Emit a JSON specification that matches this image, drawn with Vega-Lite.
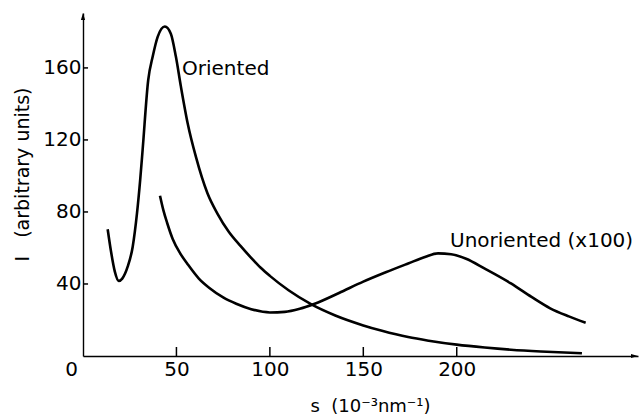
{
  "$schema": "https://vega.github.io/schema/vega-lite/v6.json",
  "autosize": "none",
  "width": 555,
  "height": 343,
  "padding": {"left": 83, "top": 13, "right": 2, "bottom": 58},
  "background": "white",
  "config": {
    "view": {"stroke": null}
  },
  "datasets": {
    "curves": [
      {"series": "Oriented", "s": 13.2, "I": 70.4},
      {"series": "Oriented", "s": 15, "I": 58},
      {"series": "Oriented", "s": 17, "I": 47},
      {"series": "Oriented", "s": 19.1, "I": 41.7},
      {"series": "Oriented", "s": 21, "I": 43},
      {"series": "Oriented", "s": 23.9, "I": 49.6},
      {"series": "Oriented", "s": 26.6, "I": 60.7},
      {"series": "Oriented", "s": 28.9, "I": 79.3},
      {"series": "Oriented", "s": 30.6, "I": 97.8},
      {"series": "Oriented", "s": 31.9, "I": 114.4},
      {"series": "Oriented", "s": 34.9, "I": 153.3},
      {"series": "Oriented", "s": 37.3, "I": 166.3},
      {"series": "Oriented", "s": 40, "I": 177.4},
      {"series": "Oriented", "s": 43.8, "I": 183},
      {"series": "Oriented", "s": 47, "I": 179},
      {"series": "Oriented", "s": 49.7, "I": 166.3},
      {"series": "Oriented", "s": 52.4, "I": 149.6},
      {"series": "Oriented", "s": 56, "I": 129.3},
      {"series": "Oriented", "s": 60.4, "I": 110.7},
      {"series": "Oriented", "s": 66.6, "I": 90.4},
      {"series": "Oriented", "s": 72, "I": 79},
      {"series": "Oriented", "s": 78, "I": 69},
      {"series": "Oriented", "s": 84.4, "I": 61},
      {"series": "Oriented", "s": 90, "I": 54.5},
      {"series": "Oriented", "s": 95.1, "I": 49},
      {"series": "Oriented", "s": 100, "I": 44.5},
      {"series": "Oriented", "s": 110, "I": 36.5},
      {"series": "Oriented", "s": 122, "I": 28.8},
      {"series": "Oriented", "s": 135, "I": 22.5},
      {"series": "Oriented", "s": 150, "I": 17},
      {"series": "Oriented", "s": 160, "I": 14},
      {"series": "Oriented", "s": 174, "I": 10.5},
      {"series": "Oriented", "s": 185, "I": 8.5},
      {"series": "Oriented", "s": 200, "I": 6.3},
      {"series": "Oriented", "s": 215, "I": 4.7},
      {"series": "Oriented", "s": 229, "I": 3.5},
      {"series": "Oriented", "s": 245, "I": 2.5},
      {"series": "Oriented", "s": 267, "I": 1.5},
      {"series": "Unoriented", "s": 41.2, "I": 89},
      {"series": "Unoriented", "s": 43, "I": 81},
      {"series": "Unoriented", "s": 45, "I": 74},
      {"series": "Unoriented", "s": 48, "I": 65},
      {"series": "Unoriented", "s": 52, "I": 57},
      {"series": "Unoriented", "s": 56, "I": 51},
      {"series": "Unoriented", "s": 62, "I": 43},
      {"series": "Unoriented", "s": 68, "I": 37.5},
      {"series": "Unoriented", "s": 75, "I": 32.5},
      {"series": "Unoriented", "s": 82, "I": 29},
      {"series": "Unoriented", "s": 90, "I": 26},
      {"series": "Unoriented", "s": 100, "I": 24.2},
      {"series": "Unoriented", "s": 108, "I": 24.5},
      {"series": "Unoriented", "s": 116, "I": 26.2},
      {"series": "Unoriented", "s": 124, "I": 29},
      {"series": "Unoriented", "s": 137, "I": 35},
      {"series": "Unoriented", "s": 150, "I": 41.3},
      {"series": "Unoriented", "s": 162, "I": 46.5},
      {"series": "Unoriented", "s": 174, "I": 51.4},
      {"series": "Unoriented", "s": 183, "I": 55},
      {"series": "Unoriented", "s": 190, "I": 57},
      {"series": "Unoriented", "s": 197, "I": 56.5},
      {"series": "Unoriented", "s": 205, "I": 54},
      {"series": "Unoriented", "s": 215, "I": 48.5},
      {"series": "Unoriented", "s": 229, "I": 40.3},
      {"series": "Unoriented", "s": 240, "I": 32.8},
      {"series": "Unoriented", "s": 250, "I": 26.5},
      {"series": "Unoriented", "s": 260, "I": 22},
      {"series": "Unoriented", "s": 269, "I": 18.5}
    ],
    "labels": [
      {"text": "Oriented", "s": 53, "I": 159.4},
      {"text": "Unoriented (x100)", "s": 196.4, "I": 63.9}
    ],
    "xticks": [{"v": 50}, {"v": 100}, {"v": 150}, {"v": 200}],
    "yticks": [{"v": 40}, {"v": 80}, {"v": 120}, {"v": 160}],
    "arrows": [
      {"dir": "up", "s": 0, "I": 190.5},
      {"dir": "right", "s": 297, "I": 0}
    ]
  },
  "layer": [
    {
      "data": {"name": "curves"},
      "mark": {"type": "line", "color": "black", "strokeWidth": 2.6, "interpolate": "monotone"},
      "encoding": {
        "x": {
          "field": "s", "type": "quantitative",
          "scale": {"domain": [0, 297], "nice": false, "zero": false},
          "axis": {
            "orient": "bottom",
            "values": [0, 50, 100, 150, 200],
            "grid": false,
            "domainColor": "black", "domainWidth": 1.4,
            "ticks": false,
            "labelColor": "black", "labelFont": "DejaVu Sans", "labelFontSize": 20,
            "labelOffset": {"condition": {"test": "datum.value === 0", "value": -12}, "value": 0},
            "labelPadding": 3,
            "labelFlush": false,
            "title": "s\u00a0\u00a0(10⁻³nm⁻¹)",
            "titleColor": "black", "titleFont": "DejaVu Sans", "titleFontWeight": "normal",
            "titleFontSize": 18,
            "titleX": 287,
            "titleY": 55,
            "titleAlign": "center",
            "titleBaseline": "alphabetic"
          }
        },
        "y": {
          "field": "I", "type": "quantitative",
          "scale": {"domain": [0, 190.5], "nice": false, "zero": false},
          "axis": {
            "orient": "left",
            "values": [40, 80, 120, 160],
            "grid": false,
            "domainColor": "black", "domainWidth": 1.4,
            "ticks": false,
            "labelColor": "black", "labelFont": "DejaVu Sans", "labelFontSize": 20,
            "labelPadding": 2,
            "labelFlush": false,
            "title": "I\u00a0\u00a0\u00a0(arbitrary units)",
            "titleColor": "black", "titleFont": "DejaVu Sans", "titleFontWeight": "normal",
            "titleFontSize": 19,
            "titleAngle": -90,
            "titleX": -61,
            "titleY": 161,
            "titleAlign": "center",
            "titleBaseline": "middle"
          }
        },
        "detail": {"field": "series"}
      }
    },
    {
      "data": {"name": "labels"},
      "mark": {"type": "text", "align": "left", "baseline": "middle", "fontSize": 20, "font": "DejaVu Sans", "color": "black"},
      "encoding": {
        "x": {"field": "s", "type": "quantitative"},
        "y": {"field": "I", "type": "quantitative"},
        "text": {"field": "text"}
      }
    },
    {
      "data": {"name": "xticks"},
      "mark": {"type": "rule", "color": "black", "strokeWidth": 1.5},
      "encoding": {
        "x": {"field": "v", "type": "quantitative"},
        "y": {"datum": 0, "type": "quantitative"},
        "y2": {"datum": 5}
      }
    },
    {
      "data": {"name": "yticks"},
      "mark": {"type": "rule", "color": "black", "strokeWidth": 1.5},
      "encoding": {
        "y": {"field": "v", "type": "quantitative"},
        "x": {"datum": 0, "type": "quantitative"},
        "x2": {"datum": 2.7}
      }
    },
    {
      "data": {"name": "arrows"},
      "transform": [{"filter": "datum.dir === 'up'"}],
      "mark": {"type": "point", "shape": "M0,0L-0.3,1L0.3,1Z", "filled": true, "color": "black", "size": 196, "opacity": 1},
      "encoding": {
        "x": {"field": "s", "type": "quantitative"},
        "y": {"field": "I", "type": "quantitative"}
      }
    },
    {
      "data": {"name": "arrows"},
      "transform": [{"filter": "datum.dir === 'right'"}],
      "mark": {"type": "point", "shape": "M0,0L-1,-0.3L-1,0.3Z", "filled": true, "color": "black", "size": 196, "opacity": 1},
      "encoding": {
        "x": {"field": "s", "type": "quantitative"},
        "y": {"field": "I", "type": "quantitative"}
      }
    }
  ]
}
